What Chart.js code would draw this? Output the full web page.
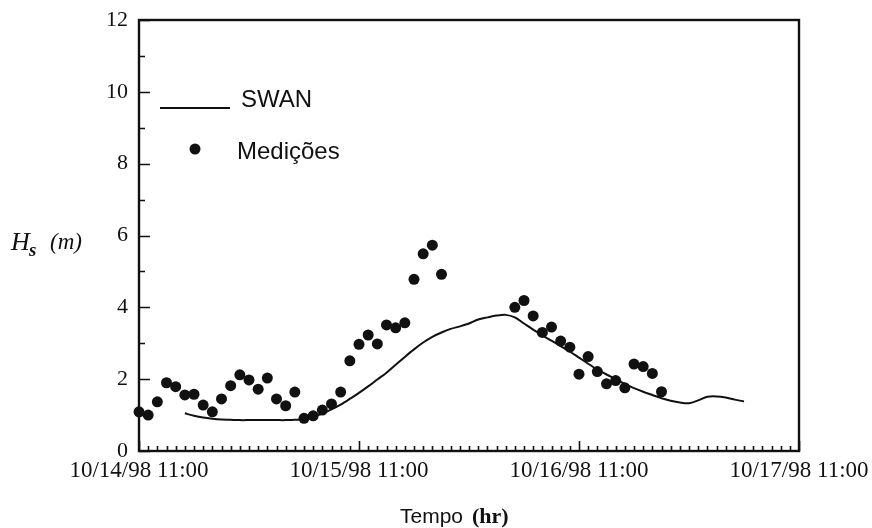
<!DOCTYPE html>
<html><head><meta charset="utf-8">
<script src="https://cdn.jsdelivr.net/npm/chart.js@4/dist/chart.umd.min.js"></script>
<style>html,body{margin:0;padding:0;background:#fff}#wrap{width:872px;height:528px}</style>
</head><body><div id="wrap"><canvas id="c" width="872" height="528"></canvas></div>
<script>
// Time in hours since 10/14/98 11:00
const measHours = [0,1,2,3,4,5,6,7,8,9,10,11,12,13,14,15,16,17,18,19,20,21,22,23,24,25,26,27,28,29,30,31,32,33,
  41,42,43,44,45,46,47,48,49,50,51,52,53,54,55,56,57];
const measHs = [1.09,1.00,1.37,1.90,1.79,1.56,1.58,1.28,1.09,1.45,1.82,2.12,1.98,1.72,2.03,1.45,1.26,1.64,0.91,0.98,1.14,1.31,1.64,2.51,2.97,3.23,2.98,3.51,3.43,3.57,4.78,5.49,5.73,4.92,
  4.00,4.19,3.76,3.30,3.45,3.06,2.89,2.14,2.63,2.21,1.87,1.96,1.76,2.42,2.35,2.16,1.65];
const swanHours = [5,6,7,8,9,10,11,12,13,14,15,16,17,18,19,20,21,22,23,24,25,26,27,28,29,30,31,32,33,34,35,36,37,38,39,40,41,42,43,44,45,46,47,48,49,50,51,52,53,54,55,56,57,58,59,60,61,62,63,64,65,66];
const swanHs = [1.05,0.98,0.93,0.90,0.88,0.87,0.86,0.86,0.86,0.86,0.86,0.86,0.87,0.88,0.95,1.04,1.16,1.29,1.45,1.62,1.80,1.99,2.18,2.40,2.62,2.83,3.02,3.18,3.30,3.40,3.47,3.55,3.66,3.72,3.77,3.79,3.72,3.55,3.38,3.22,3.07,2.92,2.77,2.60,2.43,2.27,2.13,2.00,1.87,1.75,1.65,1.56,1.47,1.40,1.35,1.33,1.41,1.51,1.52,1.49,1.43,1.38];
const xTickHours = [0,24,48,72];
const xTickLabels = ['10/14/98 11:00','10/15/98 11:00','10/16/98 11:00','10/17/98 11:00'];
const seriesNames = ['SWAN','Medições'];

const INK = '#111';
const serif = "'Liberation Serif','DejaVu Serif',serif";
const sans = "'Liberation Sans',Arial,sans-serif";

const framePlugin = {
  id: 'frame',
  beforeDatasetsDraw(chart) {
    const {ctx, chartArea: a, scales: {x, y}} = chart;
    ctx.save();
    ctx.strokeStyle = INK;
    ctx.lineWidth = 2.4;
    ctx.strokeRect(a.left, a.top, a.right - a.left, a.bottom - a.top);
    ctx.lineWidth = 1.6;
    ctx.beginPath();
    for (let v = y.min; v <= y.max; v += 1) {
      const py = Math.round(y.getPixelForValue(v)) + 0.5;
      const len = v % 2 === 0 ? 11 : 6;
      ctx.moveTo(a.left, py); ctx.lineTo(a.left + len, py);
    }
    for (let h = x.min; h <= x.max; h += 1) {
      const px = Math.round(x.getPixelForValue(h)) + 0.5;
      const len = h % 24 === 0 ? 10 : 5;
      ctx.moveTo(px, a.bottom); ctx.lineTo(px, a.bottom - len);
    }
    ctx.stroke();
    ctx.restore();
  },
  afterDraw(chart) {
    const {ctx} = chart;
    ctx.save();
    ctx.fillStyle = INK;
    ctx.strokeStyle = INK;
    // Legend
    ctx.lineWidth = 2;
    ctx.beginPath(); ctx.moveTo(160, 108); ctx.lineTo(230, 108); ctx.stroke();
    ctx.font = '24px ' + sans;
    ctx.textBaseline = 'alphabetic';
    ctx.textAlign = 'left';
    ctx.fillText(seriesNames[0], 241, 107);
    ctx.beginPath(); ctx.arc(195, 149, 5.5, 0, Math.PI * 2); ctx.fill();
    ctx.fillText(seriesNames[1], 237, 159);
    // Y title
    ctx.font = 'italic 26px ' + serif;
    ctx.fillText('H', 11, 250);
    ctx.font = 'italic bold 19px ' + serif;
    ctx.fillText('s', 29, 256);
    ctx.font = 'italic 23px ' + serif;
    ctx.fillText('(m)', 50, 249);
    // X title
    ctx.font = '21px ' + sans;
    ctx.fillText('Tempo', 400, 523);
    ctx.font = 'bold 22px ' + serif;
    ctx.fillText('(hr)', 472, 523);
    ctx.restore();
  }
};

new Chart(document.getElementById('c'), {
  type: 'scatter',
  data: {
    datasets: [
      {
        label: seriesNames[0],
        data: swanHours.map((h, i) => ({x: h, y: swanHs[i]})),
        showLine: true,
        borderColor: INK,
        borderWidth: 2,
        pointRadius: 0,
        tension: 0.3,
        clip: false
      },
      {
        label: seriesNames[1],
        data: measHours.map((h, i) => ({x: h, y: measHs[i]})),
        showLine: false,
        backgroundColor: INK,
        borderColor: INK,
        pointRadius: 5.5,
        pointBorderWidth: 0,
        clip: false
      }
    ]
  },
  options: {
    responsive: false,
    animation: false,
    devicePixelRatio: 1,
    layout: {padding: {left: 0, right: 73, top: 20, bottom: 0}},
    plugins: {legend: {display: false}, tooltip: {enabled: false}},
    scales: {
      x: {
        type: 'linear', min: 0, max: 72,
        grid: {display: false, tickLength: 0},
        border: {display: false},
        ticks: {
          stepSize: 1, autoSkip: false, maxRotation: 0, minRotation: 0,
          padding: 6, color: INK, font: {family: serif, size: 23},
          callback: (v) => { const i = xTickHours.indexOf(v); return i >= 0 ? xTickLabels[i] : ''; }
        },
        afterFit: (s) => { s.height = 77; s.paddingLeft = 0; s.paddingRight = 0; }
      },
      y: {
        min: 0, max: 12,
        grid: {display: false, tickLength: 0},
        border: {display: false},
        ticks: {stepSize: 2, padding: 11, color: INK, font: {family: serif, size: 22}},
        afterFit: (s) => { s.width = 139; s.paddingTop = 0; s.paddingBottom = 0; }
      }
    }
  },
  plugins: [framePlugin]
});
</script>
</body></html>
